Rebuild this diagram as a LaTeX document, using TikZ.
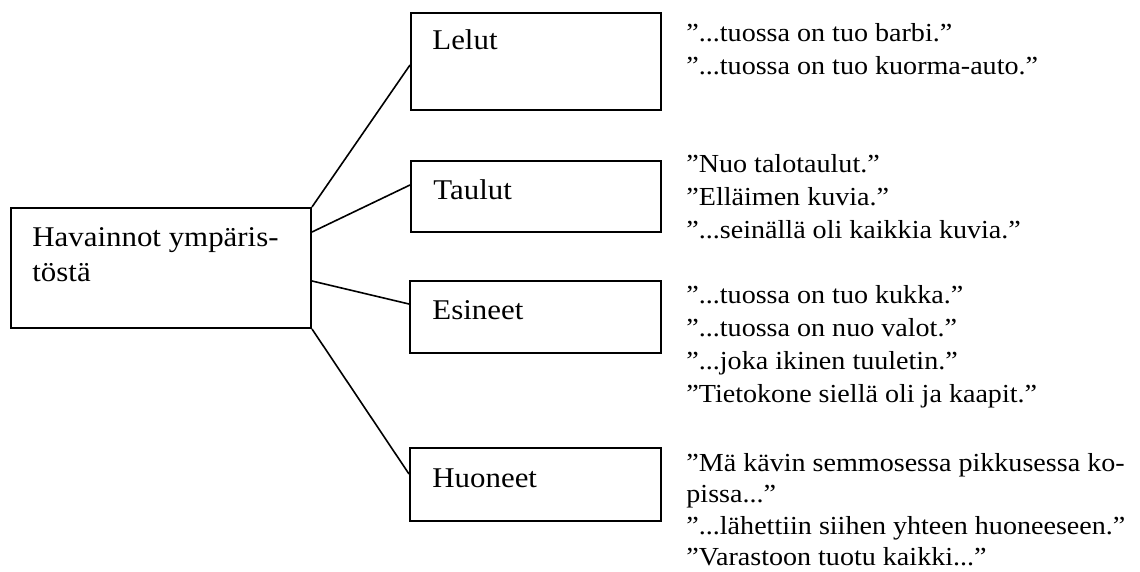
\documentclass[tikz,border=0pt]{standalone}
\usepackage{fontspec}
\setmainfont{Liberation Serif}[FakeStretch=1.08]
\begin{document}
\begin{tikzpicture}[x=0.5pt,y=-0.5pt,
  box/.style={draw, line width=1pt, inner sep=0pt},
  conn/.style={line width=0.8pt},
  lab/.style={anchor=base west, inner sep=0pt, font=\fontsize{14.3pt}{17.5pt}\selectfont},
  quotes/.style={anchor=base west, inner sep=0pt, font=\fontsize{13pt}{16.4pt}\selectfont}]
\useasboundingbox (0,0) rectangle (1140,572);
% boxes
\node[box, minimum width=150pt, minimum height=60pt] (main) at (161,268) {};
\node[box, minimum width=125pt, minimum height=48.5pt] (lelut) at (536,61.5) {};
\node[box, minimum width=125pt, minimum height=35.5pt] (taulut) at (536,196.5) {};
\node[box, minimum width=125.5pt, minimum height=36pt] (esineet) at (535.5,317) {};
\node[box, minimum width=125.5pt, minimum height=36.5pt] (huoneet) at (535.5,484.5) {};
% labels
\node[lab] (tmain1) at (32,247) {Havainnot ympäris-};
\node[lab] (tmain2) at (32,282) {töstä};
\node[lab] (tlelut) at (432,50) {Lelut};
\node[lab] (ttaulut) at (433,200) {Taulut};
\node[lab] (tesineet) at (432,319) {Esineet};
\node[lab] (thuoneet) at (432,487) {Huoneet};
% connectors
\draw[conn] (main.north east) -- ([yshift=-1.75pt]lelut.west);
\draw[conn] ([yshift=18pt]main.east) -- ([yshift=5.75pt]taulut.west);
\draw[conn] ([yshift=-6.5pt]main.east) -- ([yshift=6.5pt]esineet.west);
\draw[conn] (main.south east) -- ([yshift=5.25pt]huoneet.west);
% quotes
\node[quotes] (qlelut) at (686,42) {\begin{tabular}[t]{@{}l@{}}”...tuossa on tuo barbi.”\\”...tuossa on tuo kuorma-auto.”\end{tabular}};
\node[quotes] (qtaulut) at (686,173) {\begin{tabular}[t]{@{}l@{}}”Nuo talotaulut.”\\”Elläimen kuvia.”\\”...seinällä oli kaikkia kuvia.”\end{tabular}};
\node[quotes] (qesineet) at (686,304) {\begin{tabular}[t]{@{}l@{}}”...tuossa on tuo kukka.”\\”...tuossa on nuo valot.”\\”...joka ikinen tuuletin.”\\”Tietokone siellä oli ja kaapit.”\end{tabular}};
\node[quotes, font=\fontsize{13pt}{15.8pt}\selectfont] (qhuoneet) at (686,471) {\begin{tabular}[t]{@{}l@{}}”Mä kävin semmosessa pikkusessa ko-\\pissa...”\\”...lähettiin siihen yhteen huoneeseen.”\\”Varastoon tuotu kaikki...”\end{tabular}};
\end{tikzpicture}
\end{document}
